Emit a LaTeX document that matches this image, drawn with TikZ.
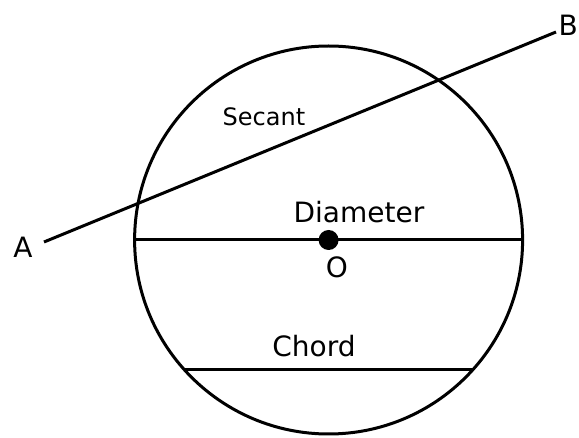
\documentclass[tikz,border=0pt]{standalone}
\usepackage{fontspec}
\setmainfont{DejaVu Sans}
\begin{document}
\begin{tikzpicture}[x=1pt,y=-1pt,
  geo/.style={line width=3pt},
  lbl/.style={inner sep=0pt,font=\fontsize{28}{30}\selectfont},
  slbl/.style={inner sep=0pt,font=\fontsize{24}{26}\selectfont}]
\useasboundingbox[fill=white] (0,0) rectangle (579,438);
\node[geo,draw,circle,inner sep=0pt,outer sep=0pt,minimum size=388pt] (circ) at (328.6,240) {};
\coordinate (pa) at (44,242);
\coordinate (pb) at (556,32);
\draw[geo] (pa) -- (pb);
\draw[geo] (circ.west) -- (circ.east);
\draw[geo] (circ.222) -- (circ.-42);
\node[circle,fill=black,inner sep=0pt,minimum size=20pt] (dot) at (circ.center) {};
\node[lbl] (ltA) at (23,247) {A};
\node[lbl,anchor=east] (ltB) at (578,25) {B};
\node[lbl] (ltO) at (337,267) {O};
\node[lbl] (ltD) at (359,212) {Diameter};
\node[lbl] (ltC) at (314,346) {Chord};
\node[slbl] (ltS) at (264,117) {Secant};
\end{tikzpicture}
\end{document}
